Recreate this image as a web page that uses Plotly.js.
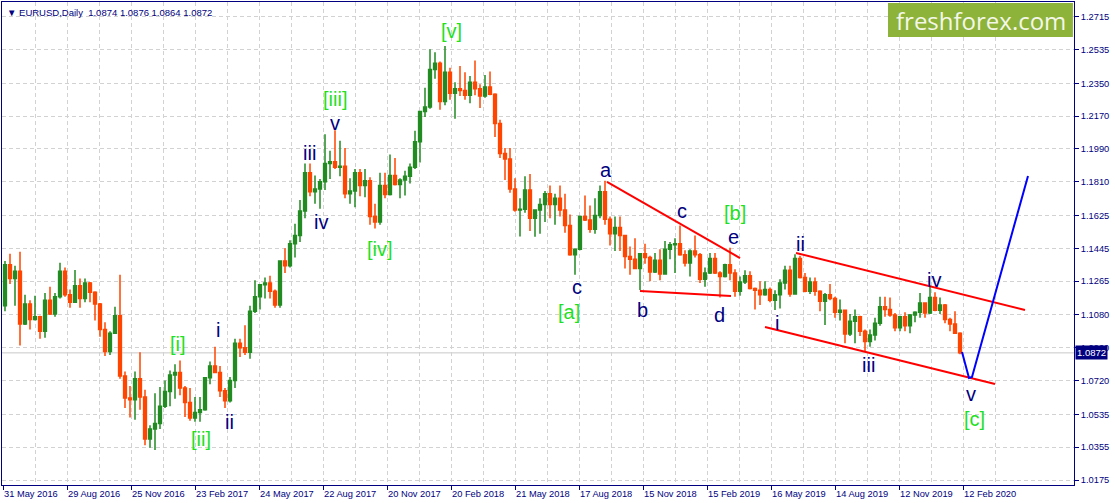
<!DOCTYPE html>
<html>
<head>
<meta charset="utf-8">
<script src="https://cdn.plot.ly/plotly-3.0.1.min.js"></script>
<style>html,body{margin:0;padding:0;background:#fff;}#chart{width:1115px;height:503px;}</style>
</head>
<body>
<div id="chart"></div>
<script>
// EURUSD, each bar = 5 consecutive daily bars
const openP = [
1.1130,1.1355,1.1280,1.1320,1.1030,1.1140,1.1055,1.1070,1.0990,1.1160,
1.1085,1.1180,1.1320,1.1190,1.1150,1.1240,1.1170,1.1255,1.1205,1.1140,
1.1000,1.0880,1.0980,1.1075,1.0745,1.0625,1.0615,1.0730,1.0630,1.0400,
1.0455,1.0485,1.0580,1.0660,1.0750,1.0765,1.0680,1.0600,1.0515,1.0545,
1.0560,1.0735,1.0800,1.0765,1.0665,1.0610,1.0720,1.0925,1.0900,1.0875,
1.1100,1.1180,1.1245,1.1255,1.1210,1.1135,1.1375,1.1350,1.1470,1.1515,
1.1650,1.1860,1.1755,1.1770,1.1810,1.1910,1.1920,1.1890,1.1895,1.1745,
1.1760,1.1860,1.1790,1.1815,1.1620,1.1590,1.1790,1.1740,1.1845,1.1795,
1.1820,1.1840,1.1890,1.2030,1.2195,1.2220,1.2425,1.2460,1.2250,1.2410,
1.2295,1.2320,1.2310,1.2285,1.2355,1.2320,1.2280,1.2330,1.2290,1.2130,
1.1965,1.1935,1.1770,1.1655,1.1660,1.1765,1.1610,1.1655,1.1685,1.1745,
1.1685,1.1720,1.1655,1.1570,1.1410,1.1440,1.1620,1.1600,1.1550,1.1625,
1.1755,1.1605,1.1525,1.1560,1.1515,1.1400,1.1385,1.1335,1.1415,1.1395,
1.1315,1.1380,1.1305,1.1440,1.1465,1.1470,1.1410,1.1365,1.1430,1.1410,
1.1275,1.1310,1.1390,1.1310,1.1290,1.1355,1.1310,1.1210,1.1260,1.1295,
1.1225,1.1215,1.1190,1.1220,1.1160,1.1190,1.1255,1.1325,1.1195,1.1390,
1.1285,1.1210,1.1260,1.1210,1.1155,1.1190,1.1170,1.1095,1.1105,1.0975,
1.1045,1.1070,1.0990,1.0935,1.0970,1.1035,1.1125,1.1110,1.1080,1.1010,
1.1070,1.1020,1.1080,1.1095,1.1145,1.1090,1.1175,1.1105,1.1135,1.1055,1.1030,1.0980];
const highP = [
1.1375,1.1415,1.1350,1.1427,1.1190,1.1160,1.1185,1.1075,1.1200,1.1235,
1.1200,1.1366,1.1340,1.1220,1.1327,1.1280,1.1280,1.1260,1.1210,1.1145,
1.1040,1.0990,1.1125,1.1300,1.0770,1.0690,1.0770,1.0875,1.0670,1.0475,
1.0650,1.0685,1.0720,1.0775,1.0810,1.0830,1.0690,1.0680,1.0630,1.0630,
1.0740,1.0825,1.0906,1.0800,1.0680,1.0740,1.0950,1.0950,1.1023,1.1130,
1.1270,1.1250,1.1285,1.1295,1.1220,1.1380,1.1445,1.1490,1.1580,1.1710,
1.1910,1.1910,1.1845,1.1825,1.2070,1.1980,1.2092,1.2035,1.1995,1.1830,
1.1880,1.1880,1.1880,1.1835,1.1690,1.1860,1.1860,1.1960,1.1940,1.1830,
1.1870,1.1910,1.2090,1.2200,1.2325,1.2537,1.2520,1.2470,1.2555,1.2435,
1.2355,1.2445,1.2410,1.2390,1.2475,1.2345,1.2395,1.2415,1.2295,1.2150,
1.1995,1.1995,1.1830,1.1720,1.1840,1.1852,1.1660,1.1720,1.1760,1.1790,
1.1745,1.1790,1.1745,1.1630,1.1445,1.1625,1.1735,1.1680,1.1720,1.1790,
1.1815,1.1620,1.1620,1.1620,1.1520,1.1455,1.1500,1.1420,1.1470,1.1405,
1.1420,1.1440,1.1485,1.1480,1.1500,1.1570,1.1435,1.1440,1.1515,1.1420,
1.1340,1.1420,1.1420,1.1320,1.1360,1.1448,1.1330,1.1290,1.1325,1.1320,
1.1230,1.1265,1.1265,1.1230,1.1215,1.1275,1.1350,1.1350,1.1412,1.1405,
1.1310,1.1285,1.1285,1.1215,1.1200,1.1250,1.1180,1.1165,1.1110,1.1085,
1.1110,1.1075,1.1000,1.1000,1.1065,1.1179,1.1180,1.1175,1.1090,1.1075,
1.1095,1.1085,1.1100,1.1200,1.1150,1.1239,1.1205,1.1175,1.1140,1.1065,1.1100,1.0985];
const lowP = [
1.1100,1.1250,1.1130,1.0912,1.1025,1.1000,1.1050,1.0950,1.0955,1.1080,
1.1070,1.1170,1.1180,1.1120,1.1145,1.1120,1.1150,1.1150,1.1050,1.0960,
1.0855,1.0860,1.0975,1.0730,1.0570,1.0518,1.0505,1.0560,1.0365,1.0352,
1.0340,1.0455,1.0570,1.0580,1.0620,1.0640,1.0520,1.0500,1.0495,1.0495,
1.0555,1.0700,1.0760,1.0630,1.0570,1.0600,1.0680,1.0850,1.0860,1.0840,
1.1090,1.1110,1.1170,1.1170,1.1120,1.1120,1.1310,1.1340,1.1395,1.1480,
1.1610,1.1730,1.1690,1.1662,1.1765,1.1825,1.1880,1.1840,1.1720,1.1690,
1.1670,1.1730,1.1725,1.1575,1.1554,1.1575,1.1720,1.1735,1.1790,1.1720,
1.1735,1.1800,1.1880,1.1915,1.2165,1.2210,1.2375,1.2205,1.2230,1.2260,
1.2155,1.2280,1.2260,1.2240,1.2285,1.2215,1.2270,1.2285,1.2055,1.1940,
1.1820,1.1750,1.1645,1.1510,1.1640,1.1540,1.1508,1.1525,1.1590,1.1610,
1.1575,1.1620,1.1530,1.1405,1.1300,1.1435,1.1595,1.1530,1.1525,1.1610,
1.1575,1.1460,1.1430,1.1430,1.1335,1.1300,1.1330,1.1216,1.1360,1.1265,
1.1310,1.1270,1.1300,1.1385,1.1310,1.1405,1.1345,1.1290,1.1395,1.1255,
1.1235,1.1305,1.1305,1.1176,1.1285,1.1270,1.1180,1.1185,1.1250,1.1220,
1.1110,1.1135,1.1185,1.1150,1.1107,1.1115,1.1220,1.1180,1.1190,1.1280,
1.1205,1.1195,1.1185,1.1100,1.1025,1.1160,1.1065,1.1050,1.0925,1.0965,
1.0925,1.0965,1.0879,1.0905,1.0940,1.1020,1.1070,1.1070,1.0990,1.0990,
1.0990,1.0980,1.1040,1.1065,1.1065,1.1085,1.1100,1.1085,1.1035,1.0990,1.0975,1.0865];
const closeP = [
1.1355,1.1280,1.1320,1.1030,1.1140,1.1055,1.1070,1.0990,1.1160,1.1085,
1.1180,1.1320,1.1190,1.1150,1.1240,1.1170,1.1255,1.1205,1.1140,1.1000,
1.0880,1.0980,1.1075,1.0745,1.0625,1.0615,1.0730,1.0630,1.0400,1.0455,
1.0485,1.0580,1.0660,1.0750,1.0765,1.0680,1.0600,1.0515,1.0545,1.0560,
1.0735,1.0800,1.0765,1.0665,1.0610,1.0720,1.0925,1.0900,1.0875,1.1100,
1.1180,1.1245,1.1255,1.1210,1.1135,1.1375,1.1350,1.1470,1.1515,1.1650,
1.1860,1.1755,1.1770,1.1810,1.1910,1.1920,1.1890,1.1895,1.1745,1.1760,
1.1860,1.1790,1.1815,1.1620,1.1590,1.1790,1.1740,1.1845,1.1795,1.1820,
1.1840,1.1890,1.2030,1.2195,1.2220,1.2425,1.2460,1.2250,1.2410,1.2295,
1.2320,1.2310,1.2285,1.2355,1.2320,1.2280,1.2330,1.2290,1.2130,1.1965,
1.1935,1.1770,1.1655,1.1660,1.1765,1.1610,1.1655,1.1685,1.1745,1.1685,
1.1720,1.1655,1.1570,1.1410,1.1440,1.1620,1.1600,1.1550,1.1625,1.1755,
1.1605,1.1525,1.1560,1.1515,1.1400,1.1385,1.1335,1.1415,1.1395,1.1315,
1.1380,1.1305,1.1440,1.1465,1.1470,1.1410,1.1365,1.1430,1.1410,1.1275,
1.1310,1.1390,1.1310,1.1290,1.1355,1.1310,1.1210,1.1260,1.1295,1.1225,
1.1215,1.1190,1.1220,1.1160,1.1190,1.1255,1.1325,1.1195,1.1390,1.1285,
1.1210,1.1260,1.1210,1.1155,1.1190,1.1170,1.1095,1.1105,1.0975,1.1045,
1.1070,1.0990,1.0935,1.0970,1.1035,1.1125,1.1110,1.1080,1.1010,1.1070,
1.1020,1.1080,1.1095,1.1145,1.1090,1.1175,1.1105,1.1135,1.1055,1.1030,1.0980,1.0872];

const daysPerBar = 5;
const dateLabels = ['31 May 2016','29 Aug 2016','25 Nov 2016','23 Feb 2017','24 May 2017','22 Aug 2017',
  '20 Nov 2017','20 Feb 2018','21 May 2018','17 Aug 2018','15 Nov 2018','15 Feb 2019','16 May 2019',
  '14 Aug 2019','12 Nov 2019','12 Feb 2020'];
const daysPerLabel = 64;
const priceTicks = [1.2715,1.2535,1.2350,1.2170,1.1990,1.1810,1.1625,1.1445,1.1265,1.1080,1.0900,1.0720,1.0535,1.0355,1.0175];

// trend lines: [day index, price]
const lineAE_day = [604, 737];       const lineAE_px = [1.1809, 1.1392];
const lineBD_day = [637, 728];       const lineBD_px = [1.1211, 1.1184];
const chanTop_day = [793, 1022];     const chanTop_px = [1.1420, 1.1107];
const chanBot_day = [762, 992];      const chanBot_px = [1.1014, 1.0701];
const proj_day = [959, 966, 969, 1025]; const proj_px = [1.0877, 1.0734, 1.0740, 1.1842];

// wave labels
const waveText  = ['[i]','[ii]','[iii]','[iv]','[v]','[a]','[b]','[c]',
                   'i','ii','iii','iv','v','c','a','b','c','d','e','i','ii','iii','iv','v'];
const waveDay   = [175,198,332,377,448,566,732,971,
                   215,226,306,318,332,574,603,639,679,716,730,774,797,865,931,968];
const wavePrice = [1.0921,1.0400,1.2262,1.1441,1.2637,1.1096,1.1639,1.0509,
                   1.0997,1.0493,1.1968,1.1589,1.2130,1.1233,1.1875,1.1107,1.1650,1.1080,1.1507,1.1036,1.1469,1.0806,1.1271,1.0647];

const NAVY = '#000080', UP = '#228B22', DOWN = '#FF4500', GRID = '#d2d2d2';
const LIME = '#1fe01f';

const barX = openP.map((_, k) => k * daysPerBar + 2);
const traces = [{
  type: 'candlestick', x: barX, open: openP, high: highP, low: lowP, close: closeP,
  increasing: {line: {color: UP, width: 1.5}, fillcolor: UP},
  decreasing: {line: {color: DOWN, width: 1.5}, fillcolor: DOWN},
  whiskerwidth: 0, hoverinfo: 'skip'
}];
function addLine(xs, ys, color) {
  traces.push({type: 'scatter', mode: 'lines', x: xs, y: ys, line: {color: color, width: 2}, hoverinfo: 'skip'});
}
addLine(lineAE_day, lineAE_px, '#ff0000');
addLine(lineBD_day, lineBD_px, '#ff0000');
addLine(chanTop_day, chanTop_px, '#ff0000');
addLine(chanBot_day, chanBot_px, '#ff0000');
addLine(proj_day, proj_px, '#0000ff');

const lastClose = closeP[closeP.length - 1];
const annotations = waveText.map((t, i) => ({
  x: waveDay[i], y: wavePrice[i], xref: 'x', yref: 'y', text: t, showarrow: false,
  xanchor: 'center', yanchor: 'middle',
  font: {family: 'Liberation Sans, Arial, sans-serif', size: 20, color: t.startsWith('[') ? LIME : NAVY}
}));
annotations.push({
  xref: 'paper', yref: 'paper', x: 0, y: 1, xanchor: 'left', yanchor: 'top', xshift: 3, yshift: -3,
  text: '\u25BC EURUSD,Daily  1.0874 1.0876 1.0864 1.0872', showarrow: false,
  font: {family: 'Liberation Sans, DejaVu Sans, sans-serif', size: 9.5, color: NAVY}
});
annotations.push({
  xref: 'paper', yref: 'paper', x: 0.9132, y: 0.9607, xanchor: 'center', yanchor: 'middle',
  text: 'freshforex.com', showarrow: false,
  font: {family: 'Open Sans, sans-serif', size: 24, color: '#f4f7e8'}
});
annotations.push({
  xref: 'paper', yref: 'y', x: 1, y: lastClose, xanchor: 'left', yanchor: 'middle', xshift: 1,
  text: lastClose.toFixed(4), showarrow: false, bgcolor: NAVY, borderpad: 1,
  font: {family: 'Liberation Sans, Arial, sans-serif', size: 9.5, color: '#ffffff'}
});

const layout = {
  width: 1115, height: 503,
  margin: {l: 2, r: 41, t: 2, b: 18, pad: 0},
  paper_bgcolor: '#ffffff', plot_bgcolor: '#ffffff',
  showlegend: false, hovermode: false, boxgap: 0.2,
  xaxis: {
    range: [-1, 1071], tickmode: 'array',
    tickvals: dateLabels.map((_, j) => j * daysPerLabel), ticktext: dateLabels,
    ticks: 'outside', ticklen: 4, tickcolor: NAVY, ticklabelposition: 'outside right',
    showline: true, linecolor: NAVY, linewidth: 1, mirror: true,
    showgrid: true, gridcolor: GRID, griddash: '4px,3px', zeroline: false,
    minor: {tickmode: 'array', tickvals: dateLabels.map((_, j) => j * daysPerLabel + daysPerLabel / 2),
            showgrid: true, gridcolor: GRID, griddash: '4px,3px', ticks: ''},
    rangeslider: {visible: false}, fixedrange: true,
    tickfont: {family: 'Liberation Sans, Arial, sans-serif', size: 9.3, color: NAVY}
  },
  yaxis: {
    side: 'right', range: [1.01476, 1.27956], tickmode: 'array',
    tickvals: priceTicks, ticktext: priceTicks.map(v => v.toFixed(4)),
    ticks: 'outside', ticklen: 4, tickcolor: NAVY,
    showline: true, linecolor: NAVY, linewidth: 1, mirror: true,
    showgrid: true, gridcolor: GRID, griddash: '4px,3px', zeroline: false, fixedrange: true,
    tickfont: {family: 'Liberation Sans, Arial, sans-serif', size: 9.3, color: NAVY}
  },
  shapes: [
    {type: 'line', xref: 'paper', yref: 'y', x0: 0, x1: 1, y0: lastClose, y1: lastClose,
     line: {color: '#c8c8c8', width: 1}, layer: 'below'},
    {type: 'rect', xref: 'paper', yref: 'paper', x0: 0.8265, x1: 0.999, y0: 0.9275, y1: 0.998,
     fillcolor: '#8db33a', line: {width: 0}, layer: 'above'}
  ],
  annotations: annotations
};
Plotly.newPlot('chart', traces, layout, {staticPlot: true, displayModeBar: false});
</script>
</body>
</html>
